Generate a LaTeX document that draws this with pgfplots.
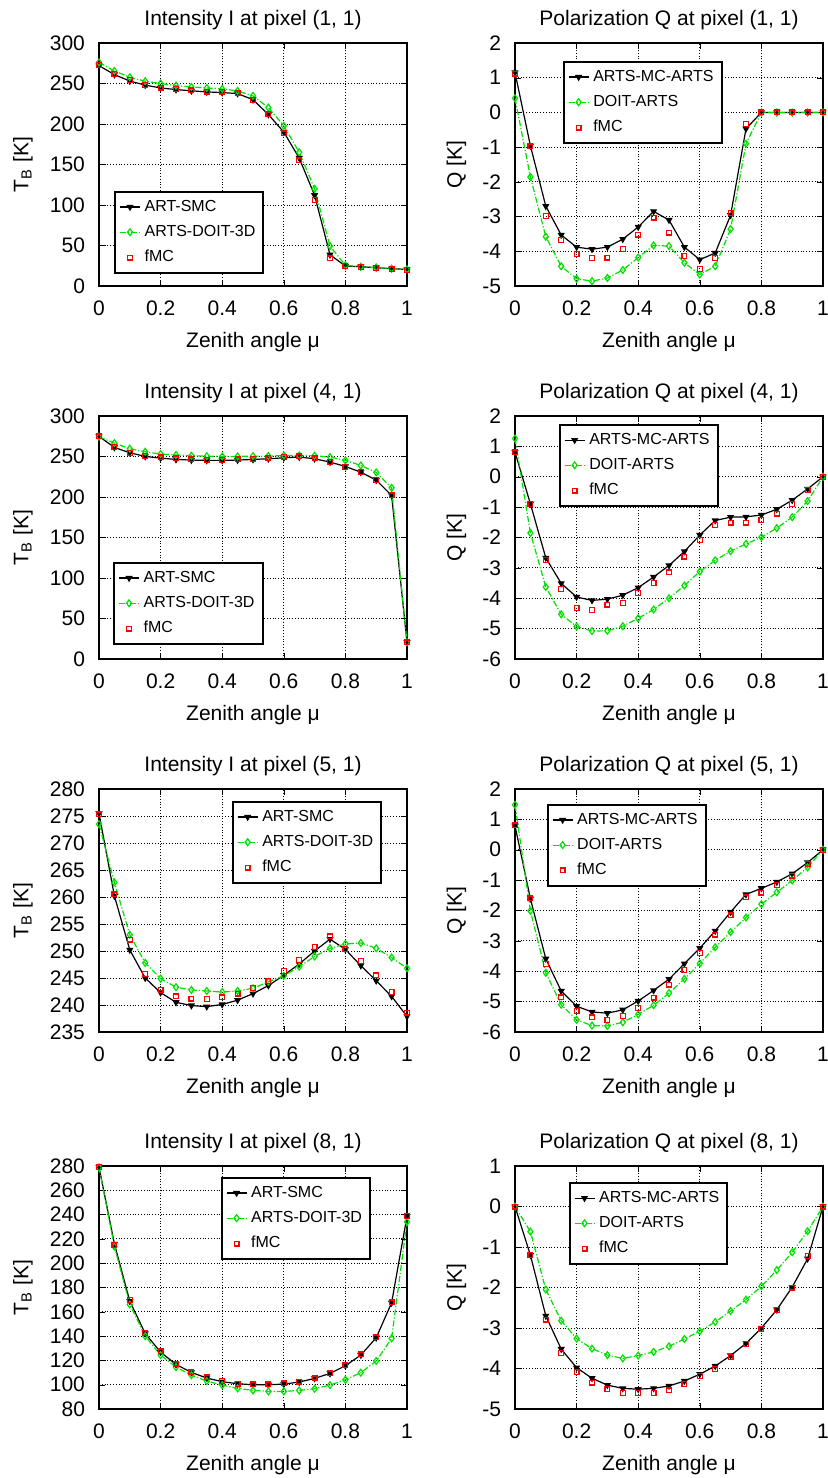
\documentclass[border=0pt]{standalone}
\usepackage{fontspec}
\setmainfont{Liberation Sans}
\usepackage{pgfplots}
\pgfplotsset{compat=1.18}
\definecolor{mygreen}{RGB}{0,225,0}
\pgfplotsset{
  myax/.style={
    width=154pt, height=121.5pt, scale only axis,
    xmin=0, xmax=1, xtick={0,0.2,0.4,0.6,0.8,1},
    font=\fontsize{10.5}{12.6}\selectfont,
    grid=major, major grid style={densely dotted, black, line width=0.5pt},
    tick align=inside, major tick length=3pt, tick style={black},
    axis line style={line width=0.8pt},
    xlabel={Zenith angle μ},
    xlabel style={at={(axis description cs:0.5,-0.23)}, anchor=center},
    title style={at={(axis description cs:0.5,1)}, anchor=base, yshift=3pt},
    xticklabel style={yshift=-4pt},
    yticklabel style={xshift=-3.5pt},
    /pgf/number format/assume math mode=true,
    legend style={font=\fontsize{8}{9.6}\selectfont, draw=black, line width=1pt, cells={anchor=west}, row sep=1.5pt, inner xsep=2pt, inner ysep=2pt},
    legend image code/.code={\draw[mark repeat=2,mark phase=2] plot coordinates {(0pt,0pt) (5pt,0pt) (10pt,0pt)};},
    every axis plot/.append style={line width=0.6pt},
  },
  lefty/.style={ylabel={T\textsubscript{B} [K]}, ylabel style={at={(axis description cs:-0.247,0.5)}, anchor=center}},
  righty/.style={ylabel={Q [K]}, ylabel style={at={(axis description cs:-0.19,0.5)}, anchor=center}},
  smc/.style={black, solid, mark=triangle*, mark size=1.5pt, mark options={rotate=180, solid, fill=black, draw=black}},
  doit/.style={color=mygreen, densely dashdotted, mark=diamond, mark size=1.7pt, mark options={solid, draw=mygreen}},
  fmc/.style={color=red, only marks, mark=square, mark size=1.2pt, mark options={solid, draw=red}},
}
\begin{document}
\begin{tikzpicture}
\useasboundingbox (0,0) rectangle (413.5pt,-739pt);

% Panel 1
\begin{axis}[myax, lefty, at={(49.5pt,-143pt)}, anchor=south west,
  title={Intensity I at pixel (1, 1)}, ymin=0, ymax=300, ytick={0,50,...,300},
  legend style={at={(axis description cs:0.05,0.05)}, anchor=south west}]
\addplot[smc] coordinates {(0,272) (0.05,261) (0.1,253) (0.15,248) (0.2,244.5) (0.25,242.5) (0.3,241) (0.35,239.6) (0.4,238.8) (0.45,237.6) (0.5,230) (0.55,211.7) (0.6,190) (0.65,158) (0.7,112) (0.75,38.6) (0.8,24.7) (0.85,23.8) (0.9,22.6) (0.95,21.4) (1,20.5)};
\addplot[doit] coordinates {(0,276) (0.05,265.5) (0.1,257.7) (0.15,252.8) (0.2,250) (0.25,247.4) (0.3,245.8) (0.35,244.5) (0.4,243.3) (0.45,240.9) (0.5,234.7) (0.55,220.3) (0.6,197.7) (0.65,165.2) (0.7,120) (0.75,49.3) (0.8,25.5) (0.85,23.8) (0.9,23) (0.95,21.4) (1,20.5)};
\addplot[fmc] coordinates {(0,273) (0.05,262) (0.1,254) (0.15,248.5) (0.2,245) (0.25,243) (0.3,241.5) (0.35,240) (0.4,240) (0.45,238) (0.5,230) (0.55,212) (0.6,188.5) (0.65,155) (0.7,106) (0.75,34) (0.8,24.5) (0.85,23.5) (0.9,22) (0.95,21) (1,20)};
\legend{ART-SMC, ARTS-DOIT-3D, fMC}
\end{axis}

% Panel 2
\begin{axis}[myax, righty, at={(257.5pt,-143pt)}, anchor=south west,
  title={Polarization Q at pixel (1, 1)}, ymin=-5, ymax=2, ytick={-5,-4,...,2},
  legend style={at={(axis description cs:0.156,0.926)}, anchor=north west}]
\addplot[smc] coordinates {(0,1.15) (0.05,-0.96) (0.1,-2.7) (0.15,-3.53) (0.2,-3.88) (0.25,-3.94) (0.3,-3.88) (0.35,-3.65) (0.4,-3.3) (0.45,-2.85) (0.5,-3.1) (0.55,-3.88) (0.6,-4.24) (0.65,-4.05) (0.7,-2.96) (0.75,-0.47) (0.8,0) (0.85,0) (0.9,0) (0.95,0) (1,0)};
\addplot[doit] coordinates {(0,0.41) (0.05,-1.86) (0.1,-3.58) (0.15,-4.43) (0.2,-4.79) (0.25,-4.86) (0.3,-4.77) (0.35,-4.54) (0.4,-4.18) (0.45,-3.83) (0.5,-3.85) (0.55,-4.33) (0.6,-4.67) (0.65,-4.43) (0.7,-3.36) (0.75,-0.9) (0.8,0) (0.85,0) (0.9,0) (0.95,0) (1,0)};
\addplot[fmc] coordinates {(0,1.12) (0.05,-0.98) (0.1,-2.98) (0.15,-3.67) (0.2,-4.08) (0.25,-4.19) (0.3,-4.18) (0.35,-3.93) (0.4,-3.52) (0.45,-3.03) (0.5,-3.46) (0.55,-4.13) (0.6,-4.51) (0.65,-4.2) (0.7,-2.9) (0.75,-0.33) (0.8,0) (0.85,0) (0.9,0) (0.95,0) (1,0)};
\legend{ARTS-MC-ARTS, DOIT-ARTS, fMC}
\end{axis}

% Panel 3
\begin{axis}[myax, lefty, at={(49.5pt,-329.5pt)}, anchor=south west,
  title={Intensity I at pixel (4, 1)}, ymin=0, ymax=300, ytick={0,50,...,300},
  legend style={at={(axis description cs:0.047,0.058)}, anchor=south west}]
\addplot[smc] coordinates {(0,274.8) (0.05,261.2) (0.1,254.6) (0.15,250.1) (0.2,248) (0.25,246.4) (0.3,245.6) (0.35,245.2) (0.4,245.2) (0.45,245.6) (0.5,246.4) (0.55,247.2) (0.6,248.4) (0.65,249.3) (0.7,247.2) (0.75,243.1) (0.8,237.7) (0.85,230.7) (0.9,220.9) (0.95,201.9) (1,20.6)};
\addplot[doit] coordinates {(0,274.4) (0.05,266.6) (0.1,259.6) (0.15,255.9) (0.2,253) (0.25,251.8) (0.3,251) (0.35,250.5) (0.4,250.1) (0.45,250.1) (0.5,250.5) (0.55,250.5) (0.6,251.3) (0.65,251.3) (0.7,251) (0.75,249.3) (0.8,245.2) (0.85,239) (0.9,230.4) (0.95,211.4) (1,20.6)};
\addplot[fmc] coordinates {(0,274.8) (0.05,262) (0.1,254.6) (0.15,250.5) (0.2,248.9) (0.25,247.6) (0.3,246.4) (0.35,246) (0.4,246) (0.45,246.4) (0.5,247.2) (0.55,248) (0.6,249.3) (0.65,250.1) (0.7,247.6) (0.75,243.1) (0.8,237.3) (0.85,230.7) (0.9,221.3) (0.95,201.9) (1,20.6)};
\legend{ART-SMC, ARTS-DOIT-3D, fMC}
\end{axis}

% Panel 4
\begin{axis}[myax, righty, at={(257.5pt,-329.5pt)}, anchor=south west,
  title={Polarization Q at pixel (4, 1)}, ymin=-6, ymax=2, ytick={-6,-5,...,2},
  legend style={at={(axis description cs:0.143,0.967)}, anchor=north west}]
\addplot[smc] coordinates {(0,0.81) (0.05,-0.89) (0.1,-2.67) (0.15,-3.51) (0.2,-3.96) (0.25,-4.07) (0.3,-4.03) (0.35,-3.9) (0.4,-3.65) (0.45,-3.3) (0.5,-2.92) (0.55,-2.46) (0.6,-1.92) (0.65,-1.44) (0.7,-1.33) (0.75,-1.32) (0.8,-1.26) (0.85,-1.07) (0.9,-0.77) (0.95,-0.4) (1,0)};
\addplot[doit] coordinates {(0,1.26) (0.05,-1.85) (0.1,-3.63) (0.15,-4.53) (0.2,-4.93) (0.25,-5.08) (0.3,-5.07) (0.35,-4.92) (0.4,-4.66) (0.45,-4.37) (0.5,-4.0) (0.55,-3.58) (0.6,-3.12) (0.65,-2.75) (0.7,-2.45) (0.75,-2.21) (0.8,-1.99) (0.85,-1.69) (0.9,-1.33) (0.95,-0.8) (1,0)};
\addplot[fmc] coordinates {(0,0.8) (0.05,-0.9) (0.1,-2.75) (0.15,-3.69) (0.2,-4.32) (0.25,-4.38) (0.3,-4.21) (0.35,-4.15) (0.4,-3.82) (0.45,-3.49) (0.5,-3.15) (0.55,-2.63) (0.6,-2.09) (0.65,-1.58) (0.7,-1.51) (0.75,-1.51) (0.8,-1.43) (0.85,-1.21) (0.9,-0.9) (0.95,-0.44) (1,0)};
\legend{ARTS-MC-ARTS, DOIT-ARTS, fMC}
\end{axis}

% Panel 5
\begin{axis}[myax, lefty, at={(49.5pt,-516pt)}, anchor=south west,
  title={Intensity I at pixel (5, 1)}, ymin=235, ymax=280, ytick={235,240,...,280},
  legend style={at={(axis description cs:0.432,0.951)}, anchor=north west}]
\addplot[smc] coordinates {(0,275.5) (0.05,260.2) (0.1,250.2) (0.15,245.0) (0.2,242.3) (0.25,240.5) (0.3,239.9) (0.35,239.7) (0.4,240.1) (0.45,240.9) (0.5,242.1) (0.55,243.6) (0.6,245.5) (0.65,247.6) (0.7,250) (0.75,252.2) (0.8,250.3) (0.85,247.3) (0.9,244.5) (0.95,241.6) (1,237.9)};
\addplot[doit] coordinates {(0,273.5) (0.05,262.7) (0.1,253) (0.15,247.8) (0.2,244.9) (0.25,243.3) (0.3,242.8) (0.35,242.6) (0.4,242.4) (0.45,242.6) (0.5,243.1) (0.55,244.3) (0.6,245.4) (0.65,247.1) (0.7,249) (0.75,250.5) (0.8,251.3) (0.85,251.5) (0.9,250.5) (0.95,248.8) (1,246.8)};
\addplot[fmc] coordinates {(0,275.3) (0.05,260.5) (0.1,252.1) (0.15,245.7) (0.2,242.8) (0.25,241.6) (0.3,241.2) (0.35,241.1) (0.4,241.4) (0.45,242.1) (0.5,243.1) (0.55,244.4) (0.6,246.3) (0.65,248.3) (0.7,250.7) (0.75,252.7) (0.8,250.4) (0.85,248.1) (0.9,245.5) (0.95,242.4) (1,238.6)};
\legend{ART-SMC, ARTS-DOIT-3D, fMC}
\end{axis}

% Panel 6
\begin{axis}[myax, righty, at={(257.5pt,-516pt)}, anchor=south west,
  title={Polarization Q at pixel (5, 1)}, ymin=-6, ymax=2, ytick={-6,-5,...,2},
  legend style={at={(axis description cs:0.104,0.939)}, anchor=north west}]
\addplot[smc] coordinates {(0,0.79) (0.05,-1.61) (0.1,-3.59) (0.15,-4.65) (0.2,-5.15) (0.25,-5.34) (0.3,-5.38) (0.35,-5.27) (0.4,-4.98) (0.45,-4.63) (0.5,-4.26) (0.55,-3.75) (0.6,-3.24) (0.65,-2.67) (0.7,-2.05) (0.75,-1.47) (0.8,-1.27) (0.85,-1.06) (0.9,-0.79) (0.95,-0.42) (1,0)};
\addplot[doit] coordinates {(0,1.48) (0.05,-2.01) (0.1,-4.05) (0.15,-5.1) (0.2,-5.6) (0.25,-5.79) (0.3,-5.8) (0.35,-5.68) (0.4,-5.42) (0.45,-5.12) (0.5,-4.72) (0.55,-4.25) (0.6,-3.74) (0.65,-3.21) (0.7,-2.71) (0.75,-2.23) (0.8,-1.79) (0.85,-1.4) (0.9,-1.01) (0.95,-0.58) (1,0)};
\addplot[fmc] coordinates {(0,0.8) (0.05,-1.6) (0.1,-3.77) (0.15,-4.86) (0.2,-5.3) (0.25,-5.52) (0.3,-5.6) (0.35,-5.48) (0.4,-5.2) (0.45,-4.87) (0.5,-4.44) (0.55,-3.95) (0.6,-3.39) (0.65,-2.79) (0.7,-2.16) (0.75,-1.57) (0.8,-1.41) (0.85,-1.16) (0.9,-0.85) (0.95,-0.47) (1,0)};
\legend{ARTS-MC-ARTS, DOIT-ARTS, fMC}
\end{axis}

% Panel 7
\begin{axis}[myax, lefty, at={(49.5pt,-704.5pt)}, anchor=south west,
  title={Intensity I at pixel (8, 1)}, ymin=80, ymax=280, ytick={80,100,...,280},
  legend style={at={(axis description cs:0.396,0.955)}, anchor=north west}]
\addplot[smc] coordinates {(0,279.2) (0.05,215.9) (0.1,168.8) (0.15,142.2) (0.2,126.8) (0.25,116.7) (0.3,110.1) (0.35,105.5) (0.4,102.5) (0.45,100.8) (0.5,100) (0.55,100) (0.6,100.5) (0.65,102.2) (0.7,105.2) (0.75,109.3) (0.8,115.6) (0.85,124.4) (0.9,138.6) (0.95,167.4) (1,238.6)};
\addplot[doit] coordinates {(0,278.9) (0.05,213.7) (0.1,166) (0.15,140) (0.2,124.4) (0.25,114.5) (0.3,107.9) (0.35,103) (0.4,99.7) (0.45,97) (0.5,95.3) (0.55,94.5) (0.6,94.5) (0.65,95.3) (0.7,96.7) (0.75,99.7) (0.8,104.1) (0.85,109.9) (0.9,119.5) (0.95,138.1) (1,234)};
\addplot[fmc] coordinates {(0,279) (0.05,215) (0.1,169.6) (0.15,142.5) (0.2,127.4) (0.25,117.3) (0.3,110.7) (0.35,106) (0.4,103) (0.45,100.8) (0.5,100.3) (0.55,100.3) (0.6,101.1) (0.65,102.5) (0.7,105.8) (0.75,109.6) (0.8,115.9) (0.85,124.9) (0.9,138.9) (0.95,167.7) (1,238.9)};
\legend{ART-SMC, ARTS-DOIT-3D, fMC}
\end{axis}

% Panel 8
\begin{axis}[myax, righty, at={(257.5pt,-704.5pt)}, anchor=south west,
  title={Polarization Q at pixel (8, 1)}, ymin=-5, ymax=1, ytick={-5,-4,...,1},
  legend style={at={(axis description cs:0.175,0.934)}, anchor=north west}]
\addplot[smc] coordinates {(0,0) (0.05,-1.2) (0.1,-2.7) (0.15,-3.52) (0.2,-3.98) (0.25,-4.24) (0.3,-4.41) (0.35,-4.49) (0.4,-4.51) (0.45,-4.49) (0.5,-4.43) (0.55,-4.31) (0.6,-4.14) (0.65,-3.94) (0.7,-3.68) (0.75,-3.38) (0.8,-3.0) (0.85,-2.55) (0.9,-1.99) (0.95,-1.29) (1,0)};
\addplot[doit] coordinates {(0,0) (0.05,-0.62) (0.1,-2.05) (0.15,-2.82) (0.2,-3.26) (0.25,-3.51) (0.3,-3.67) (0.35,-3.75) (0.4,-3.68) (0.45,-3.59) (0.5,-3.45) (0.55,-3.27) (0.6,-3.08) (0.65,-2.85) (0.7,-2.58) (0.75,-2.3) (0.8,-1.97) (0.85,-1.57) (0.9,-1.13) (0.95,-0.61) (1,0)};
\addplot[fmc] coordinates {(0,0) (0.05,-1.2) (0.1,-2.79) (0.15,-3.61) (0.2,-4.08) (0.25,-4.35) (0.3,-4.51) (0.35,-4.6) (0.4,-4.6) (0.45,-4.6) (0.5,-4.54) (0.55,-4.38) (0.6,-4.19) (0.65,-4.01) (0.7,-3.72) (0.75,-3.4) (0.8,-3.03) (0.85,-2.56) (0.9,-2.0) (0.95,-1.22) (1,0)};
\legend{ARTS-MC-ARTS, DOIT-ARTS, fMC}
\end{axis}
\end{tikzpicture}
\end{document}
